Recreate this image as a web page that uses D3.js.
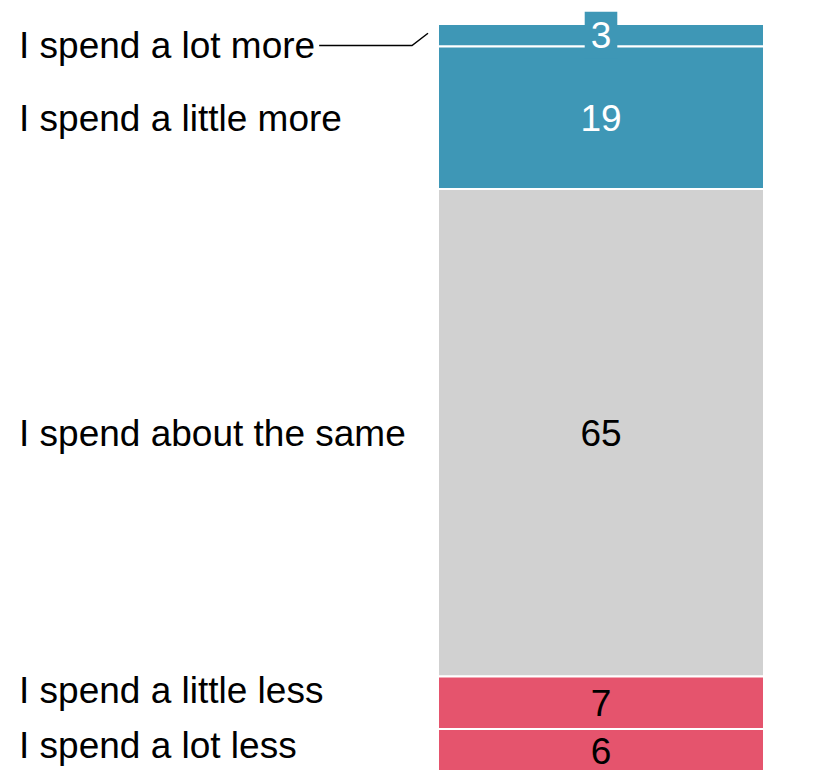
<!DOCTYPE html>
<html>
<head>
<meta charset="utf-8">
<script src="https://cdn.jsdelivr.net/npm/d3@7"></script>
<style>
  html, body { margin: 0; padding: 0; background: #ffffff; }
  svg { display: block; }
  text { font-family: "Liberation Sans", Arial, Helvetica, sans-serif; }
</style>
</head>
<body>
<svg id="chart" width="823" height="770"></svg>
<script>
// Answer categories, top to bottom, and their shares (percent)
const categories = [
  "I spend a lot more",
  "I spend a little more",
  "I spend about the same",
  "I spend a little less",
  "I spend a lot less"
];
const shares = [3, 19, 65, 7, 6];
const fills = ["#3e97b6", "#3e97b6", "#d1d1d1", "#e5546d", "#e5546d"];
const valueInk = ["#ffffff", "#ffffff", "#000000", "#000000", "#000000"];

const W = 823, H = 770;
const fontSize = 37;
const barLeft = 438, barRight = 764;
const labelX = 19;
const labelMinY = 45.5, labelMaxY = 744.7, labelGap = 55;

const svg = d3.select("#chart");

// Stack the shares into cumulative segments
let acc = 0;
const segs = shares.map((v, i) => {
  const s = { cat: categories[i], value: v, y0: acc, y1: acc + v, i };
  acc += v;
  return s;
});

const y = d3.scaleLinear().domain([0, 100]).range([24, 774]);
const x = d3.scaleBand().domain(["all"]).range([barLeft, barRight]).padding(0);

// Bar segments with white separators
svg.append("g").selectAll("rect")
  .data(segs)
  .join("rect")
  .attr("x", x("all"))
  .attr("width", x.bandwidth())
  .attr("y", d => y(d.y0))
  .attr("height", d => y(d.y1) - y(d.y0))
  .attr("fill", d => fills[d.i])
  .attr("stroke", "#ffffff")
  .attr("stroke-width", 2);

const cx = x("all") + x.bandwidth() / 2;
const mid = d => (y(d.y0) + y(d.y1)) / 2;

// Value labels; a thin segment gets a backing chip so the number stays legible
const vals = svg.append("g");
segs.forEach(d => {
  const h = y(d.y1) - y(d.y0);
  const g = vals.append("g");
  const t = g.append("text")
    .attr("x", cx)
    .attr("y", mid(d))
    .attr("dy", "0.35em")
    .attr("text-anchor", "middle")
    .attr("font-size", fontSize)
    .attr("fill", valueInk[d.i])
    .text(d.value);
  if (h < fontSize) {
    const w = t.node().getComputedTextLength();
    g.insert("rect", "text")
      .attr("x", cx - w / 2 - 6)
      .attr("y", mid(d) - 23.5)
      .attr("width", w + 12)
      .attr("height", 47)
      .attr("fill", fills[d.i]);
  }
});

// Category labels: keep them apart and inside the frame
const pos = segs.map(d => mid(d));
for (let k = 0; k < pos.length; k++) pos[k] = Math.min(labelMaxY, Math.max(labelMinY, pos[k]));
for (let k = pos.length - 2; k >= 0; k--) pos[k] = Math.min(pos[k], pos[k + 1] - labelGap);

const labs = svg.append("g");
segs.forEach((d, k) => {
  const t = labs.append("text")
    .attr("x", labelX)
    .attr("y", pos[k])
    .attr("dy", "0.35em")
    .attr("font-size", fontSize)
    .attr("fill", "#000000")
    .text(d.cat);
  // Leader for a label that was nudged away from its thin segment
  if (Math.abs(pos[k] - mid(d)) > 4 && (y(d.y1) - y(d.y0)) < fontSize) {
    const end = labelX + t.node().getComputedTextLength() + 4;
    svg.append("polyline")
      .attr("points", [[end, pos[k]], [barLeft - 26, pos[k]], [barLeft - 10, mid(d) - 2]].map(p => p.join(",")).join(" "))
      .attr("fill", "none")
      .attr("stroke", "#000000")
      .attr("stroke-width", 1.5);
  }
});
</script>
</body>
</html>
